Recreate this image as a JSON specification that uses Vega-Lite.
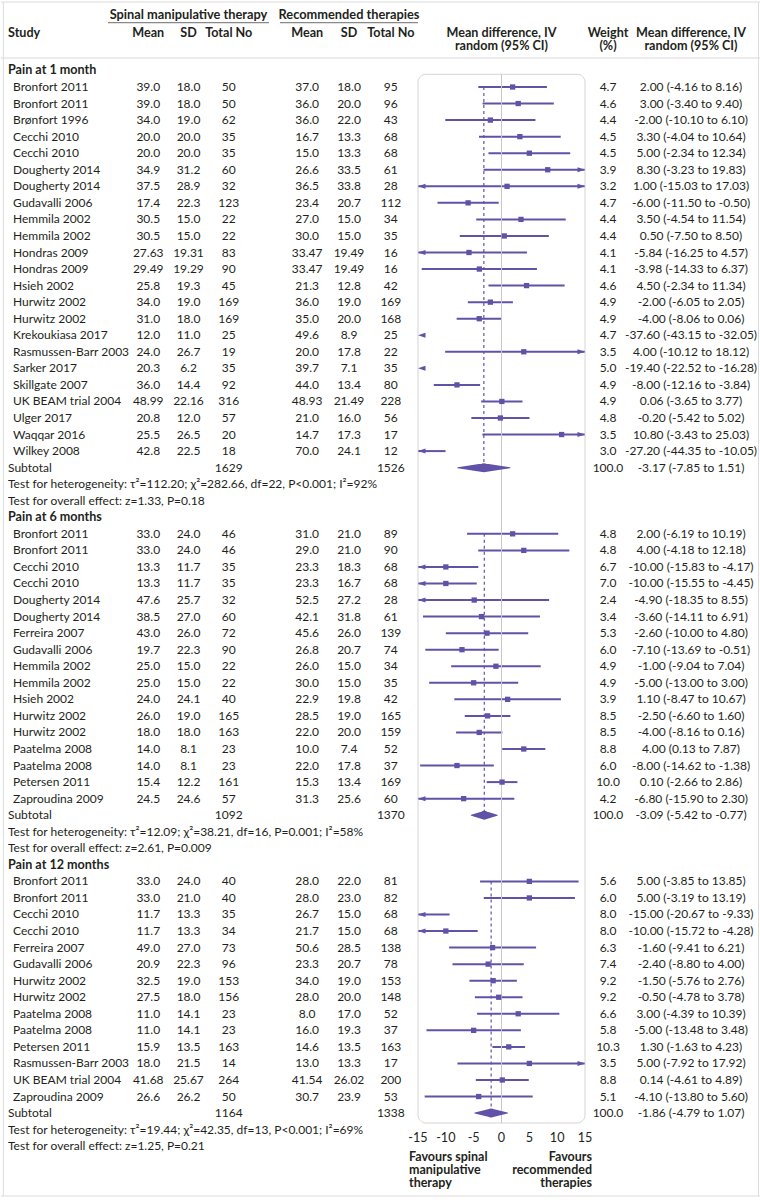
{
"$schema": "https://vega.github.io/schema/vega-lite/v6.json",
"background": "white",
"padding": 0,
"spacing": 0,
"bounds": "flush",
"datasets": {"rows": [
{"s":1,"k":"sec","label":"Pain at 1 month"},
{"s":1,"k":"study","label":"Bronfort 2011","sm":"39.0","ssd":"18.0","sn":"50","rm":"37.0","rsd":"18.0","rn":"95","w":"4.7","md":2.00,"lo":-4.16,"hi":8.16,"ci":"2.00 (-4.16 to 8.16)"},
{"s":1,"k":"study","label":"Bronfort 2011","sm":"39.0","ssd":"18.0","sn":"50","rm":"36.0","rsd":"20.0","rn":"96","w":"4.6","md":3.00,"lo":-3.40,"hi":9.40,"ci":"3.00 (-3.40 to 9.40)"},
{"s":1,"k":"study","label":"Brønfort 1996","sm":"34.0","ssd":"19.0","sn":"62","rm":"36.0","rsd":"22.0","rn":"43","w":"4.4","md":-2.00,"lo":-10.10,"hi":6.10,"ci":"-2.00 (-10.10 to 6.10)"},
{"s":1,"k":"study","label":"Cecchi 2010","sm":"20.0","ssd":"20.0","sn":"35","rm":"16.7","rsd":"13.3","rn":"68","w":"4.5","md":3.30,"lo":-4.04,"hi":10.64,"ci":"3.30 (-4.04 to 10.64)"},
{"s":1,"k":"study","label":"Cecchi 2010","sm":"20.0","ssd":"20.0","sn":"35","rm":"15.0","rsd":"13.3","rn":"68","w":"4.5","md":5.00,"lo":-2.34,"hi":12.34,"ci":"5.00 (-2.34 to 12.34)"},
{"s":1,"k":"study","label":"Dougherty 2014","sm":"34.9","ssd":"31.2","sn":"60","rm":"26.6","rsd":"33.5","rn":"61","w":"3.9","md":8.30,"lo":-3.23,"hi":19.83,"ci":"8.30 (-3.23 to 19.83)"},
{"s":1,"k":"study","label":"Dougherty 2014","sm":"37.5","ssd":"28.9","sn":"32","rm":"36.5","rsd":"33.8","rn":"28","w":"3.2","md":1.00,"lo":-15.03,"hi":17.03,"ci":"1.00 (-15.03 to 17.03)"},
{"s":1,"k":"study","label":"Gudavalli 2006","sm":"17.4","ssd":"22.3","sn":"123","rm":"23.4","rsd":"20.7","rn":"112","w":"4.7","md":-6.00,"lo":-11.50,"hi":-0.50,"ci":"-6.00 (-11.50 to -0.50)"},
{"s":1,"k":"study","label":"Hemmila 2002","sm":"30.5","ssd":"15.0","sn":"22","rm":"27.0","rsd":"15.0","rn":"34","w":"4.4","md":3.50,"lo":-4.54,"hi":11.54,"ci":"3.50 (-4.54 to 11.54)"},
{"s":1,"k":"study","label":"Hemmila 2002","sm":"30.5","ssd":"15.0","sn":"22","rm":"30.0","rsd":"15.0","rn":"35","w":"4.4","md":0.50,"lo":-7.50,"hi":8.50,"ci":"0.50 (-7.50 to 8.50)"},
{"s":1,"k":"study","label":"Hondras 2009","sm":"27.63","ssd":"19.31","sn":"83","rm":"33.47","rsd":"19.49","rn":"16","w":"4.1","md":-5.84,"lo":-16.25,"hi":4.57,"ci":"-5.84 (-16.25 to 4.57)"},
{"s":1,"k":"study","label":"Hondras 2009","sm":"29.49","ssd":"19.29","sn":"90","rm":"33.47","rsd":"19.49","rn":"16","w":"4.1","md":-3.98,"lo":-14.33,"hi":6.37,"ci":"-3.98 (-14.33 to 6.37)"},
{"s":1,"k":"study","label":"Hsieh 2002","sm":"25.8","ssd":"19.3","sn":"45","rm":"21.3","rsd":"12.8","rn":"42","w":"4.6","md":4.50,"lo":-2.34,"hi":11.34,"ci":"4.50 (-2.34 to 11.34)"},
{"s":1,"k":"study","label":"Hurwitz 2002","sm":"34.0","ssd":"19.0","sn":"169","rm":"36.0","rsd":"19.0","rn":"169","w":"4.9","md":-2.00,"lo":-6.05,"hi":2.05,"ci":"-2.00 (-6.05 to 2.05)"},
{"s":1,"k":"study","label":"Hurwitz 2002","sm":"31.0","ssd":"18.0","sn":"169","rm":"35.0","rsd":"20.0","rn":"168","w":"4.9","md":-4.00,"lo":-8.06,"hi":0.06,"ci":"-4.00 (-8.06 to 0.06)"},
{"s":1,"k":"study","label":"Krekoukiasa 2017","sm":"12.0","ssd":"11.0","sn":"25","rm":"49.6","rsd":"8.9","rn":"25","w":"4.7","md":-37.60,"lo":-43.15,"hi":-32.05,"ci":"-37.60 (-43.15 to -32.05)"},
{"s":1,"k":"study","label":"Rasmussen-Barr 2003","sm":"24.0","ssd":"26.7","sn":"19","rm":"20.0","rsd":"17.8","rn":"22","w":"3.5","md":4.00,"lo":-10.12,"hi":18.12,"ci":"4.00 (-10.12 to 18.12)"},
{"s":1,"k":"study","label":"Sarker 2017","sm":"20.3","ssd":"6.2","sn":"35","rm":"39.7","rsd":"7.1","rn":"35","w":"5.0","md":-19.40,"lo":-22.52,"hi":-16.28,"ci":"-19.40 (-22.52 to -16.28)"},
{"s":1,"k":"study","label":"Skillgate 2007","sm":"36.0","ssd":"14.4","sn":"92","rm":"44.0","rsd":"13.4","rn":"80","w":"4.9","md":-8.00,"lo":-12.16,"hi":-3.84,"ci":"-8.00 (-12.16 to -3.84)"},
{"s":1,"k":"study","label":"UK BEAM trial 2004","sm":"48.99","ssd":"22.16","sn":"316","rm":"48.93","rsd":"21.49","rn":"228","w":"4.9","md":0.06,"lo":-3.65,"hi":3.77,"ci":"0.06 (-3.65 to 3.77)"},
{"s":1,"k":"study","label":"Ulger 2017","sm":"20.8","ssd":"12.0","sn":"57","rm":"21.0","rsd":"16.0","rn":"56","w":"4.8","md":-0.20,"lo":-5.42,"hi":5.02,"ci":"-0.20 (-5.42 to 5.02)"},
{"s":1,"k":"study","label":"Waqqar 2016","sm":"25.5","ssd":"26.5","sn":"20","rm":"14.7","rsd":"17.3","rn":"17","w":"3.5","md":10.80,"lo":-3.43,"hi":25.03,"ci":"10.80 (-3.43 to 25.03)"},
{"s":1,"k":"study","label":"Wilkey 2008","sm":"42.8","ssd":"22.5","sn":"18","rm":"70.0","rsd":"24.1","rn":"12","w":"3.0","md":-27.20,"lo":-44.35,"hi":-10.05,"ci":"-27.20 (-44.35 to -10.05)"},
{"s":1,"k":"sub","label":"Subtotal","sn":"1629","rn":"1526","w":"100.0","md":-3.17,"lo":-7.85,"hi":1.51,"ci":"-3.17 (-7.85 to 1.51)"},
{"s":1,"k":"het","label":"Test for heterogeneity: τ²=112.20; χ²=282.66, df=22, P<0.001; I²=92%"},
{"s":1,"k":"ovr","label":"Test for overall effect: z=1.33, P=0.18"},
{"s":2,"k":"sec","label":"Pain at 6 months"},
{"s":2,"k":"study","label":"Bronfort 2011","sm":"33.0","ssd":"24.0","sn":"46","rm":"31.0","rsd":"21.0","rn":"89","w":"4.8","md":2.00,"lo":-6.19,"hi":10.19,"ci":"2.00 (-6.19 to 10.19)"},
{"s":2,"k":"study","label":"Bronfort 2011","sm":"33.0","ssd":"24.0","sn":"46","rm":"29.0","rsd":"21.0","rn":"90","w":"4.8","md":4.00,"lo":-4.18,"hi":12.18,"ci":"4.00 (-4.18 to 12.18)"},
{"s":2,"k":"study","label":"Cecchi 2010","sm":"13.3","ssd":"11.7","sn":"35","rm":"23.3","rsd":"18.3","rn":"68","w":"6.7","md":-10.00,"lo":-15.83,"hi":-4.17,"ci":"-10.00 (-15.83 to -4.17)"},
{"s":2,"k":"study","label":"Cecchi 2010","sm":"13.3","ssd":"11.7","sn":"35","rm":"23.3","rsd":"16.7","rn":"68","w":"7.0","md":-10.00,"lo":-15.55,"hi":-4.45,"ci":"-10.00 (-15.55 to -4.45)"},
{"s":2,"k":"study","label":"Dougherty 2014","sm":"47.6","ssd":"25.7","sn":"32","rm":"52.5","rsd":"27.2","rn":"28","w":"2.4","md":-4.90,"lo":-18.35,"hi":8.55,"ci":"-4.90 (-18.35 to 8.55)"},
{"s":2,"k":"study","label":"Dougherty 2014","sm":"38.5","ssd":"27.0","sn":"60","rm":"42.1","rsd":"31.8","rn":"61","w":"3.4","md":-3.60,"lo":-14.11,"hi":6.91,"ci":"-3.60 (-14.11 to 6.91)"},
{"s":2,"k":"study","label":"Ferreira 2007","sm":"43.0","ssd":"26.0","sn":"72","rm":"45.6","rsd":"26.0","rn":"139","w":"5.3","md":-2.60,"lo":-10.00,"hi":4.80,"ci":"-2.60 (-10.00 to 4.80)"},
{"s":2,"k":"study","label":"Gudavalli 2006","sm":"19.7","ssd":"22.3","sn":"90","rm":"26.8","rsd":"20.7","rn":"74","w":"6.0","md":-7.10,"lo":-13.69,"hi":-0.51,"ci":"-7.10 (-13.69 to -0.51)"},
{"s":2,"k":"study","label":"Hemmila 2002","sm":"25.0","ssd":"15.0","sn":"22","rm":"26.0","rsd":"15.0","rn":"34","w":"4.9","md":-1.00,"lo":-9.04,"hi":7.04,"ci":"-1.00 (-9.04 to 7.04)"},
{"s":2,"k":"study","label":"Hemmila 2002","sm":"25.0","ssd":"15.0","sn":"22","rm":"30.0","rsd":"15.0","rn":"35","w":"4.9","md":-5.00,"lo":-13.00,"hi":3.00,"ci":"-5.00 (-13.00 to 3.00)"},
{"s":2,"k":"study","label":"Hsieh 2002","sm":"24.0","ssd":"24.1","sn":"40","rm":"22.9","rsd":"19.8","rn":"42","w":"3.9","md":1.10,"lo":-8.47,"hi":10.67,"ci":"1.10 (-8.47 to 10.67)"},
{"s":2,"k":"study","label":"Hurwitz 2002","sm":"26.0","ssd":"19.0","sn":"165","rm":"28.5","rsd":"19.0","rn":"165","w":"8.5","md":-2.50,"lo":-6.60,"hi":1.60,"ci":"-2.50 (-6.60 to 1.60)"},
{"s":2,"k":"study","label":"Hurwitz 2002","sm":"18.0","ssd":"18.0","sn":"163","rm":"22.0","rsd":"20.0","rn":"159","w":"8.5","md":-4.00,"lo":-8.16,"hi":0.16,"ci":"-4.00 (-8.16 to 0.16)"},
{"s":2,"k":"study","label":"Paatelma 2008","sm":"14.0","ssd":"8.1","sn":"23","rm":"10.0","rsd":"7.4","rn":"52","w":"8.8","md":4.00,"lo":0.13,"hi":7.87,"ci":"4.00 (0.13 to 7.87)"},
{"s":2,"k":"study","label":"Paatelma 2008","sm":"14.0","ssd":"8.1","sn":"23","rm":"22.0","rsd":"17.8","rn":"37","w":"6.0","md":-8.00,"lo":-14.62,"hi":-1.38,"ci":"-8.00 (-14.62 to -1.38)"},
{"s":2,"k":"study","label":"Petersen 2011","sm":"15.4","ssd":"12.2","sn":"161","rm":"15.3","rsd":"13.4","rn":"169","w":"10.0","md":0.10,"lo":-2.66,"hi":2.86,"ci":"0.10 (-2.66 to 2.86)"},
{"s":2,"k":"study","label":"Zaproudina 2009","sm":"24.5","ssd":"24.6","sn":"57","rm":"31.3","rsd":"25.6","rn":"60","w":"4.2","md":-6.80,"lo":-15.90,"hi":2.30,"ci":"-6.80 (-15.90 to 2.30)"},
{"s":2,"k":"sub","label":"Subtotal","sn":"1092","rn":"1370","w":"100.0","md":-3.09,"lo":-5.42,"hi":-0.77,"ci":"-3.09 (-5.42 to -0.77)"},
{"s":2,"k":"het","label":"Test for heterogeneity: τ²=12.09; χ²=38.21, df=16, P=0.001; I²=58%"},
{"s":2,"k":"ovr","label":"Test for overall effect: z=2.61, P=0.009"},
{"s":3,"k":"sec","label":"Pain at 12 months"},
{"s":3,"k":"study","label":"Bronfort 2011","sm":"33.0","ssd":"24.0","sn":"40","rm":"28.0","rsd":"22.0","rn":"81","w":"5.6","md":5.00,"lo":-3.85,"hi":13.85,"ci":"5.00 (-3.85 to 13.85)"},
{"s":3,"k":"study","label":"Bronfort 2011","sm":"33.0","ssd":"21.0","sn":"40","rm":"28.0","rsd":"23.0","rn":"82","w":"6.0","md":5.00,"lo":-3.19,"hi":13.19,"ci":"5.00 (-3.19 to 13.19)"},
{"s":3,"k":"study","label":"Cecchi 2010","sm":"11.7","ssd":"13.3","sn":"35","rm":"26.7","rsd":"15.0","rn":"68","w":"8.0","md":-15.00,"lo":-20.67,"hi":-9.33,"ci":"-15.00 (-20.67 to -9.33)"},
{"s":3,"k":"study","label":"Cecchi 2010","sm":"11.7","ssd":"13.3","sn":"34","rm":"21.7","rsd":"15.0","rn":"68","w":"8.0","md":-10.00,"lo":-15.72,"hi":-4.28,"ci":"-10.00 (-15.72 to -4.28)"},
{"s":3,"k":"study","label":"Ferreira 2007","sm":"49.0","ssd":"27.0","sn":"73","rm":"50.6","rsd":"28.5","rn":"138","w":"6.3","md":-1.60,"lo":-9.41,"hi":6.21,"ci":"-1.60 (-9.41 to 6.21)"},
{"s":3,"k":"study","label":"Gudavalli 2006","sm":"20.9","ssd":"22.3","sn":"96","rm":"23.3","rsd":"20.7","rn":"78","w":"7.4","md":-2.40,"lo":-8.80,"hi":4.00,"ci":"-2.40 (-8.80 to 4.00)"},
{"s":3,"k":"study","label":"Hurwitz 2002","sm":"32.5","ssd":"19.0","sn":"153","rm":"34.0","rsd":"19.0","rn":"153","w":"9.2","md":-1.50,"lo":-5.76,"hi":2.76,"ci":"-1.50 (-5.76 to 2.76)"},
{"s":3,"k":"study","label":"Hurwitz 2002","sm":"27.5","ssd":"18.0","sn":"156","rm":"28.0","rsd":"20.0","rn":"148","w":"9.2","md":-0.50,"lo":-4.78,"hi":3.78,"ci":"-0.50 (-4.78 to 3.78)"},
{"s":3,"k":"study","label":"Paatelma 2008","sm":"11.0","ssd":"14.1","sn":"23","rm":"8.0","rsd":"17.0","rn":"52","w":"6.6","md":3.00,"lo":-4.39,"hi":10.39,"ci":"3.00 (-4.39 to 10.39)"},
{"s":3,"k":"study","label":"Paatelma 2008","sm":"11.0","ssd":"14.1","sn":"23","rm":"16.0","rsd":"19.3","rn":"37","w":"5.8","md":-5.00,"lo":-13.48,"hi":3.48,"ci":"-5.00 (-13.48 to 3.48)"},
{"s":3,"k":"study","label":"Petersen 2011","sm":"15.9","ssd":"13.5","sn":"163","rm":"14.6","rsd":"13.5","rn":"163","w":"10.3","md":1.30,"lo":-1.63,"hi":4.23,"ci":"1.30 (-1.63 to 4.23)"},
{"s":3,"k":"study","label":"Rasmussen-Barr 2003","sm":"18.0","ssd":"21.5","sn":"14","rm":"13.0","rsd":"13.3","rn":"17","w":"3.5","md":5.00,"lo":-7.92,"hi":17.92,"ci":"5.00 (-7.92 to 17.92)"},
{"s":3,"k":"study","label":"UK BEAM trial 2004","sm":"41.68","ssd":"25.67","sn":"264","rm":"41.54","rsd":"26.02","rn":"200","w":"8.8","md":0.14,"lo":-4.61,"hi":4.89,"ci":"0.14 (-4.61 to 4.89)"},
{"s":3,"k":"study","label":"Zaproudina 2009","sm":"26.6","ssd":"26.2","sn":"50","rm":"30.7","rsd":"23.9","rn":"53","w":"5.1","md":-4.10,"lo":-13.80,"hi":5.60,"ci":"-4.10 (-13.80 to 5.60)"},
{"s":3,"k":"sub","label":"Subtotal","sn":"1164","rn":"1338","w":"100.0","md":-1.86,"lo":-4.79,"hi":1.07,"ci":"-1.86 (-4.79 to 1.07)"},
{"s":3,"k":"het","label":"Test for heterogeneity: τ²=19.44; χ²=42.35, df=13, P<0.001; I²=69%"},
{"s":3,"k":"ovr","label":"Test for overall effect: z=1.25, P=0.21"}
]},
"data": {"name": "rows"},
"transform": [{"window": [{"op": "row_number", "as": "i"}]}],
"resolve": {"scale": {"x": "independent", "y": "independent"}},
"hconcat": [
{
 "width": 107, "height": 1200,
 "layer": [
  {"transform": [{"filter": {"field": "k", "equal": "study"}}],
   "mark": {"type": "text", "align": "left", "dx": 12},
   "encoding": {"x": {"datum": 0, "type": "quantitative", "scale": {"domain": [0, 1]}, "axis": null},
    "y": {"field": "i", "type": "quantitative", "scale": {"domain": [-3.257, 69.251], "reverse": true, "nice": false, "zero": false}, "axis": null},
    "text": {"field": "label"}}},
  {"transform": [{"filter": {"field": "k", "equal": "sec"}}],
   "mark": {"type": "text", "align": "left", "dx": 7, "fontWeight": "bold", "fontSize": 12.6},
   "encoding": {"x": {"datum": 0, "type": "quantitative", "axis": null},
    "y": {"field": "i", "type": "quantitative", "axis": null},
    "text": {"field": "label"}}},
  {"transform": [{"filter": {"field": "k", "oneOf": ["sub", "het", "ovr"]}}],
   "mark": {"type": "text", "align": "left", "dx": 7},
   "encoding": {"x": {"datum": 0, "type": "quantitative", "axis": null},
    "y": {"field": "i", "type": "quantitative", "axis": null},
    "text": {"field": "label"}}},
  {"data": {"values": [{}]},
   "mark": {"type": "text", "align": "left", "dx": 7, "fontWeight": "bold", "fontSize": 12.6, "text": "Study"},
   "encoding": {"x": {"datum": 0, "type": "quantitative", "axis": null},
    "y": {"datum": -1.263, "type": "quantitative", "axis": null}}},
  {"data": {"values": [{}]},
   "mark": {"type": "rule", "color": "#d9d9d9", "strokeWidth": 1},
   "encoding": {"y": {"datum": 0.248, "type": "quantitative", "axis": null}}},
  {"data": {"values": [{}]},
   "mark": {"type": "rule", "color": "#dcdcdc", "strokeWidth": 1},
   "encoding": {"y": {"datum": -3.136, "type": "quantitative", "axis": null}}},
  {"data": {"values": [{}]},
   "mark": {"type": "rule", "color": "#dcdcdc", "strokeWidth": 1},
   "encoding": {"y": {"datum": 69.01, "type": "quantitative", "axis": null}}},
  {"data": {"values": [{}]},
   "mark": {"type": "rule", "color": "#dcdcdc", "strokeWidth": 1},
   "encoding": {"x": {"datum": 0.022, "type": "quantitative", "axis": null},
    "y": {"datum": -3.136, "type": "quantitative", "axis": null},
    "y2": {"datum": 69.01}}}
 ]
},
{
 "width": 161, "height": 1200,
 "layer": [
  {"transform": [{"filter": {"field": "sm", "valid": true}}],
   "mark": {"type": "text"},
   "encoding": {"x": {"datum": "sm", "type": "nominal", "scale": {"type": "point", "domain": ["sm", "ssd", "sn"], "padding": 1}, "axis": null},
    "y": {"field": "i", "type": "quantitative", "scale": {"domain": [-3.257, 69.251], "reverse": true, "nice": false, "zero": false}, "axis": null},
    "text": {"field": "sm"}}},
  {"transform": [{"filter": {"field": "ssd", "valid": true}}],
   "mark": {"type": "text"},
   "encoding": {"x": {"datum": "ssd", "type": "nominal", "axis": null},
    "y": {"field": "i", "type": "quantitative", "axis": null},
    "text": {"field": "ssd"}}},
  {"transform": [{"filter": {"field": "sn", "valid": true}}],
   "mark": {"type": "text"},
   "encoding": {"x": {"datum": "sn", "type": "nominal", "axis": null},
    "y": {"field": "i", "type": "quantitative", "axis": null},
    "text": {"field": "sn"}}},
  {"data": {"values": [{}]},
   "mark": {"type": "text", "fontWeight": "bold", "fontSize": 12.6, "text": "Mean"},
   "encoding": {"x": {"datum": "sm", "type": "nominal", "axis": null},
    "y": {"datum": -1.263, "type": "quantitative", "axis": null}}},
  {"data": {"values": [{}]},
   "mark": {"type": "text", "fontWeight": "bold", "fontSize": 12.6, "text": "SD"},
   "encoding": {"x": {"datum": "ssd", "type": "nominal", "axis": null},
    "y": {"datum": -1.263, "type": "quantitative", "axis": null}}},
  {"data": {"values": [{}]},
   "mark": {"type": "text", "fontWeight": "bold", "fontSize": 12.6, "text": "Total No"},
   "encoding": {"x": {"datum": "sn", "type": "nominal", "axis": null},
    "y": {"datum": -1.263, "type": "quantitative", "axis": null}}},
  {"data": {"values": [{}]},
   "mark": {"type": "text", "fontWeight": "bold", "fontSize": 12.8, "text": "Spinal manipulative therapy"},
   "encoding": {"y": {"datum": -2.35, "type": "quantitative", "axis": null}}},
  {"data": {"values": [{}]},
   "mark": {"type": "rule", "color": "#6b6b6b", "strokeWidth": 1},
   "encoding": {"y": {"datum": -1.885, "type": "quantitative", "axis": null}}},
  {"data": {"values": [{}]},
   "mark": {"type": "rule", "color": "#d9d9d9", "strokeWidth": 1},
   "encoding": {"y": {"datum": 0.248, "type": "quantitative", "axis": null}}},
  {"data": {"values": [{}]},
   "mark": {"type": "rule", "color": "#dcdcdc", "strokeWidth": 1},
   "encoding": {"y": {"datum": -3.136, "type": "quantitative", "axis": null}}},
  {"data": {"values": [{}]},
   "mark": {"type": "rule", "color": "#dcdcdc", "strokeWidth": 1},
   "encoding": {"y": {"datum": 69.01, "type": "quantitative", "axis": null}}}
 ]
},
{
 "width": 11, "height": 1200,
 "layer": [
  {"data": {"values": [{}]},
   "mark": {"type": "rule", "color": "#d9d9d9", "strokeWidth": 1},
   "encoding": {"y": {"datum": 0.248, "type": "quantitative", "scale": {"domain": [-3.257, 69.251], "reverse": true, "nice": false, "zero": false}, "axis": null}}},
  {"data": {"values": [{}]},
   "mark": {"type": "rule", "color": "#dcdcdc", "strokeWidth": 1},
   "encoding": {"y": {"datum": -3.136, "type": "quantitative", "axis": null}}},
  {"data": {"values": [{}]},
   "mark": {"type": "rule", "color": "#dcdcdc", "strokeWidth": 1},
   "encoding": {"y": {"datum": 69.01, "type": "quantitative", "axis": null}}}
 ]
},
{
 "width": 138, "height": 1200,
 "layer": [
  {"transform": [{"filter": {"field": "rm", "valid": true}}],
   "mark": {"type": "text"},
   "encoding": {"x": {"datum": "rm", "type": "nominal", "scale": {"type": "point", "domain": ["rm", "rsd", "rn"], "padding": 0.65}, "axis": null},
    "y": {"field": "i", "type": "quantitative", "scale": {"domain": [-3.257, 69.251], "reverse": true, "nice": false, "zero": false}, "axis": null},
    "text": {"field": "rm"}}},
  {"transform": [{"filter": {"field": "rsd", "valid": true}}],
   "mark": {"type": "text"},
   "encoding": {"x": {"datum": "rsd", "type": "nominal", "axis": null},
    "y": {"field": "i", "type": "quantitative", "axis": null},
    "text": {"field": "rsd"}}},
  {"transform": [{"filter": {"field": "rn", "valid": true}}],
   "mark": {"type": "text"},
   "encoding": {"x": {"datum": "rn", "type": "nominal", "axis": null},
    "y": {"field": "i", "type": "quantitative", "axis": null},
    "text": {"field": "rn"}}},
  {"data": {"values": [{}]},
   "mark": {"type": "text", "fontWeight": "bold", "fontSize": 12.6, "text": "Mean"},
   "encoding": {"x": {"datum": "rm", "type": "nominal", "axis": null},
    "y": {"datum": -1.263, "type": "quantitative", "axis": null}}},
  {"data": {"values": [{}]},
   "mark": {"type": "text", "fontWeight": "bold", "fontSize": 12.6, "text": "SD"},
   "encoding": {"x": {"datum": "rsd", "type": "nominal", "axis": null},
    "y": {"datum": -1.263, "type": "quantitative", "axis": null}}},
  {"data": {"values": [{}]},
   "mark": {"type": "text", "fontWeight": "bold", "fontSize": 12.6, "text": "Total No"},
   "encoding": {"x": {"datum": "rn", "type": "nominal", "axis": null},
    "y": {"datum": -1.263, "type": "quantitative", "axis": null}}},
  {"data": {"values": [{}]},
   "mark": {"type": "text", "fontWeight": "bold", "fontSize": 12.8, "text": "Recommended therapies"},
   "encoding": {"y": {"datum": -2.35, "type": "quantitative", "axis": null}}},
  {"data": {"values": [{}]},
   "mark": {"type": "rule", "color": "#6b6b6b", "strokeWidth": 1},
   "encoding": {"y": {"datum": -1.885, "type": "quantitative", "axis": null}}},
  {"data": {"values": [{}]},
   "mark": {"type": "rule", "color": "#d9d9d9", "strokeWidth": 1},
   "encoding": {"y": {"datum": 0.248, "type": "quantitative", "axis": null}}},
  {"data": {"values": [{}]},
   "mark": {"type": "rule", "color": "#dcdcdc", "strokeWidth": 1},
   "encoding": {"y": {"datum": -3.136, "type": "quantitative", "axis": null}}},
  {"data": {"values": [{}]},
   "mark": {"type": "rule", "color": "#dcdcdc", "strokeWidth": 1},
   "encoding": {"y": {"datum": 69.01, "type": "quantitative", "axis": null}}}
 ]
},
{
 "width": 167, "height": 1130,
 "layer": [
  {"transform": [{"filter": {"field": "k", "equal": "study"}}],
   "mark": {"type": "rule", "color": "#6152a8", "strokeWidth": 2},
   "encoding": {"x": {"field": "lo", "type": "quantitative", "scale": {"domain": [-15, 15], "nice": false, "zero": false, "clamp": true}, "axis": null},
    "x2": {"field": "hi"},
    "y": {"field": "i", "type": "quantitative", "scale": {"domain": [-3.257, 65.022], "reverse": true, "nice": false, "zero": false}, "axis": null}}},
  {"data": {"values": [{"tick": -15}, {"tick": -10}, {"tick": -5}, {"tick": 0}, {"tick": 5}, {"tick": 10}, {"tick": 15}]},
   "mark": {"type": "text", "fontSize": 12.6},
   "encoding": {"x": {"field": "tick", "type": "quantitative"},
    "y": {"datum": 65.5, "type": "quantitative"},
    "text": {"field": "tick", "type": "quantitative", "format": "d"}}},
  {"data": {"values": [{}]},
   "mark": {"type": "rect", "fill": "white", "fillOpacity": 0, "stroke": "#d4d4d4", "strokeWidth": 1, "cornerRadius": 8},
   "encoding": {"x": {"datum": -15, "type": "quantitative"},
    "x2": {"datum": 15},
    "y": {"datum": 1.233, "type": "quantitative"},
    "y2": {"datum": 64.6}}},
  {"data": {"values": [{}]},
   "mark": {"type": "rule", "color": "#c8c8c8", "strokeWidth": 1},
   "encoding": {"x": {"datum": 0, "type": "quantitative"},
    "y": {"datum": 1.233, "type": "quantitative"},
    "y2": {"datum": 64.6}}},
  {"transform": [{"filter": {"field": "k", "oneOf": ["study", "sub"]}},
    {"aggregate": [{"op": "min", "field": "i", "as": "i0"}, {"op": "argmax", "field": "i", "as": "sub"}], "groupby": ["s"]}],
   "mark": {"type": "rule", "color": "#6152a8", "strokeWidth": 1.2, "strokeDash": [3, 3]},
   "encoding": {"x": {"field": "sub.md", "type": "quantitative"},
    "y": {"field": "i0", "type": "quantitative"},
    "y2": {"field": "sub.i"}}},
  {"transform": [{"filter": {"field": "k", "equal": "study"}}, {"filter": "datum.md > -15 && datum.md < 15"}],
   "mark": {"type": "point", "shape": "square", "filled": true, "size": 28, "color": "#6152a8", "opacity": 1},
   "encoding": {"x": {"field": "md", "type": "quantitative"},
    "y": {"field": "i", "type": "quantitative"}}},
  {"transform": [{"filter": {"field": "k", "equal": "study"}}, {"filter": "datum.lo < -15"}],
   "mark": {"type": "point", "shape": "M0,0L2,-0.67L2,0.67Z", "filled": true, "size": 56, "color": "#6152a8", "opacity": 1},
   "encoding": {"x": {"field": "lo", "type": "quantitative"},
    "y": {"field": "i", "type": "quantitative"}}},
  {"transform": [{"filter": {"field": "k", "equal": "study"}}, {"filter": "datum.hi > 15"}],
   "mark": {"type": "point", "shape": "M0,0L-2,-0.67L-2,0.67Z", "filled": true, "size": 56, "color": "#6152a8", "opacity": 1},
   "encoding": {"x": {"field": "hi", "type": "quantitative"},
    "y": {"field": "i", "type": "quantitative"}}},
  {"transform": [{"filter": {"field": "k", "equal": "sub"}}, {"fold": ["lo", "md", "hi"], "as": ["vk", "vx"]},
    {"window": [{"op": "row_number", "as": "vn"}], "groupby": ["s"]}],
   "mark": {"type": "trail", "color": "#6152a8"},
   "encoding": {"x": {"field": "vx", "type": "quantitative"},
    "y": {"field": "i", "type": "quantitative"},
    "size": {"field": "vn", "type": "quantitative", "scale": {"type": "threshold", "domain": [1.5, 2.5], "range": [0, 9, 0]}, "legend": null},
    "detail": {"field": "s"},
    "order": {"field": "vn"}}},
  {"data": {"values": [{}]},
   "mark": {"type": "text", "fontWeight": "bold", "fontSize": 12.6, "lineHeight": 12.6, "text": ["Mean difference, IV", "random (95% CI)"]},
   "encoding": {"y": {"datum": -1.263, "type": "quantitative"}}},
  {"data": {"values": [{}]},
   "mark": {"type": "text", "fontWeight": "bold", "fontSize": 12.5, "align": "left", "dx": -9, "lineHeight": 13, "text": ["Favours spinal", "manipulative", "therapy"]},
   "encoding": {"x": {"datum": -15, "type": "quantitative"},
    "y": {"datum": 66.68, "type": "quantitative"}}},
  {"data": {"values": [{}]},
   "mark": {"type": "text", "fontWeight": "bold", "fontSize": 12.5, "align": "right", "dx": 7, "lineHeight": 13, "text": ["Favours", "recommended", "therapies"]},
   "encoding": {"x": {"datum": 15, "type": "quantitative"},
    "y": {"datum": 66.68, "type": "quantitative"}}},
  {"data": {"values": [{}]},
   "mark": {"type": "rule", "color": "#d9d9d9", "strokeWidth": 1},
   "encoding": {"y": {"datum": 0.248, "type": "quantitative"}}},
  {"data": {"values": [{}]},
   "mark": {"type": "rule", "color": "#dcdcdc", "strokeWidth": 1},
   "encoding": {"y": {"datum": -3.136, "type": "quantitative"}}},
  {"data": {"values": [{}]},
   "mark": {"type": "rule", "color": "#dcdcdc", "strokeWidth": 1},
   "encoding": {"y": {"datum": 69.01, "type": "quantitative"}}}
 ]
},
{
 "width": 46, "height": 1200,
 "layer": [
  {"transform": [{"filter": {"field": "w", "valid": true}}],
   "mark": {"type": "text"},
   "encoding": {"y": {"field": "i", "type": "quantitative", "scale": {"domain": [-3.257, 69.251], "reverse": true, "nice": false, "zero": false}, "axis": null},
    "text": {"field": "w"}}},
  {"data": {"values": [{}]},
   "mark": {"type": "text", "fontWeight": "bold", "fontSize": 12.6, "lineHeight": 12.6, "text": ["Weight", "(%)"]},
   "encoding": {"y": {"datum": -1.263, "type": "quantitative", "axis": null}}},
  {"data": {"values": [{}]},
   "mark": {"type": "rule", "color": "#d9d9d9", "strokeWidth": 1},
   "encoding": {"y": {"datum": 0.248, "type": "quantitative", "axis": null}}},
  {"data": {"values": [{}]},
   "mark": {"type": "rule", "color": "#dcdcdc", "strokeWidth": 1},
   "encoding": {"y": {"datum": -3.136, "type": "quantitative", "axis": null}}},
  {"data": {"values": [{}]},
   "mark": {"type": "rule", "color": "#dcdcdc", "strokeWidth": 1},
   "encoding": {"y": {"datum": 69.01, "type": "quantitative", "axis": null}}}
 ]
},
{
 "width": 120, "height": 1200,
 "layer": [
  {"transform": [{"filter": {"field": "w", "valid": true}}],
   "mark": {"type": "text"},
   "encoding": {"y": {"field": "i", "type": "quantitative", "scale": {"domain": [-3.257, 69.251], "reverse": true, "nice": false, "zero": false}, "axis": null},
    "text": {"field": "ci"}}},
  {"data": {"values": [{}]},
   "mark": {"type": "text", "fontWeight": "bold", "fontSize": 12.6, "lineHeight": 12.6, "text": ["Mean difference, IV", "random (95% CI)"]},
   "encoding": {"y": {"datum": -1.263, "type": "quantitative", "axis": null}}},
  {"data": {"values": [{}]},
   "mark": {"type": "rule", "color": "#d9d9d9", "strokeWidth": 1},
   "encoding": {"y": {"datum": 0.248, "type": "quantitative", "axis": null}}},
  {"data": {"values": [{}]},
   "mark": {"type": "rule", "color": "#dcdcdc", "strokeWidth": 1},
   "encoding": {"y": {"datum": -3.136, "type": "quantitative", "axis": null}}},
  {"data": {"values": [{}]},
   "mark": {"type": "rule", "color": "#dcdcdc", "strokeWidth": 1},
   "encoding": {"y": {"datum": 69.01, "type": "quantitative", "axis": null}}}
 ]
},
{
 "width": 10, "height": 1200,
 "layer": [
  {"data": {"values": [{}]},
   "mark": {"type": "rule", "color": "#d9d9d9", "strokeWidth": 1},
   "encoding": {"y": {"datum": 0.248, "type": "quantitative", "scale": {"domain": [-3.257, 69.251], "reverse": true, "nice": false, "zero": false}, "axis": null}}},
  {"data": {"values": [{}]},
   "mark": {"type": "rule", "color": "#dcdcdc", "strokeWidth": 1},
   "encoding": {"y": {"datum": -3.136, "type": "quantitative", "axis": null}}},
  {"data": {"values": [{}]},
   "mark": {"type": "rule", "color": "#dcdcdc", "strokeWidth": 1},
   "encoding": {"y": {"datum": 69.01, "type": "quantitative", "axis": null}}},
  {"data": {"values": [{}]},
   "mark": {"type": "rule", "color": "#dcdcdc", "strokeWidth": 1},
   "encoding": {"x": {"datum": 0.75, "type": "quantitative", "scale": {"domain": [0, 1]}, "axis": null},
    "y": {"datum": -3.136, "type": "quantitative", "axis": null},
    "y2": {"datum": 69.01}}}
 ]
}
],
"config": {
 "view": {"stroke": null},
 "text": {"font": "Lato", "fontSize": 12, "color": "#231f20"},
 "locale": {"number": {"decimal": ".", "thousands": ",", "grouping": [3], "currency": ["", ""], "minus": "-"}},
 "concat": {"spacing": 0}
}
}
